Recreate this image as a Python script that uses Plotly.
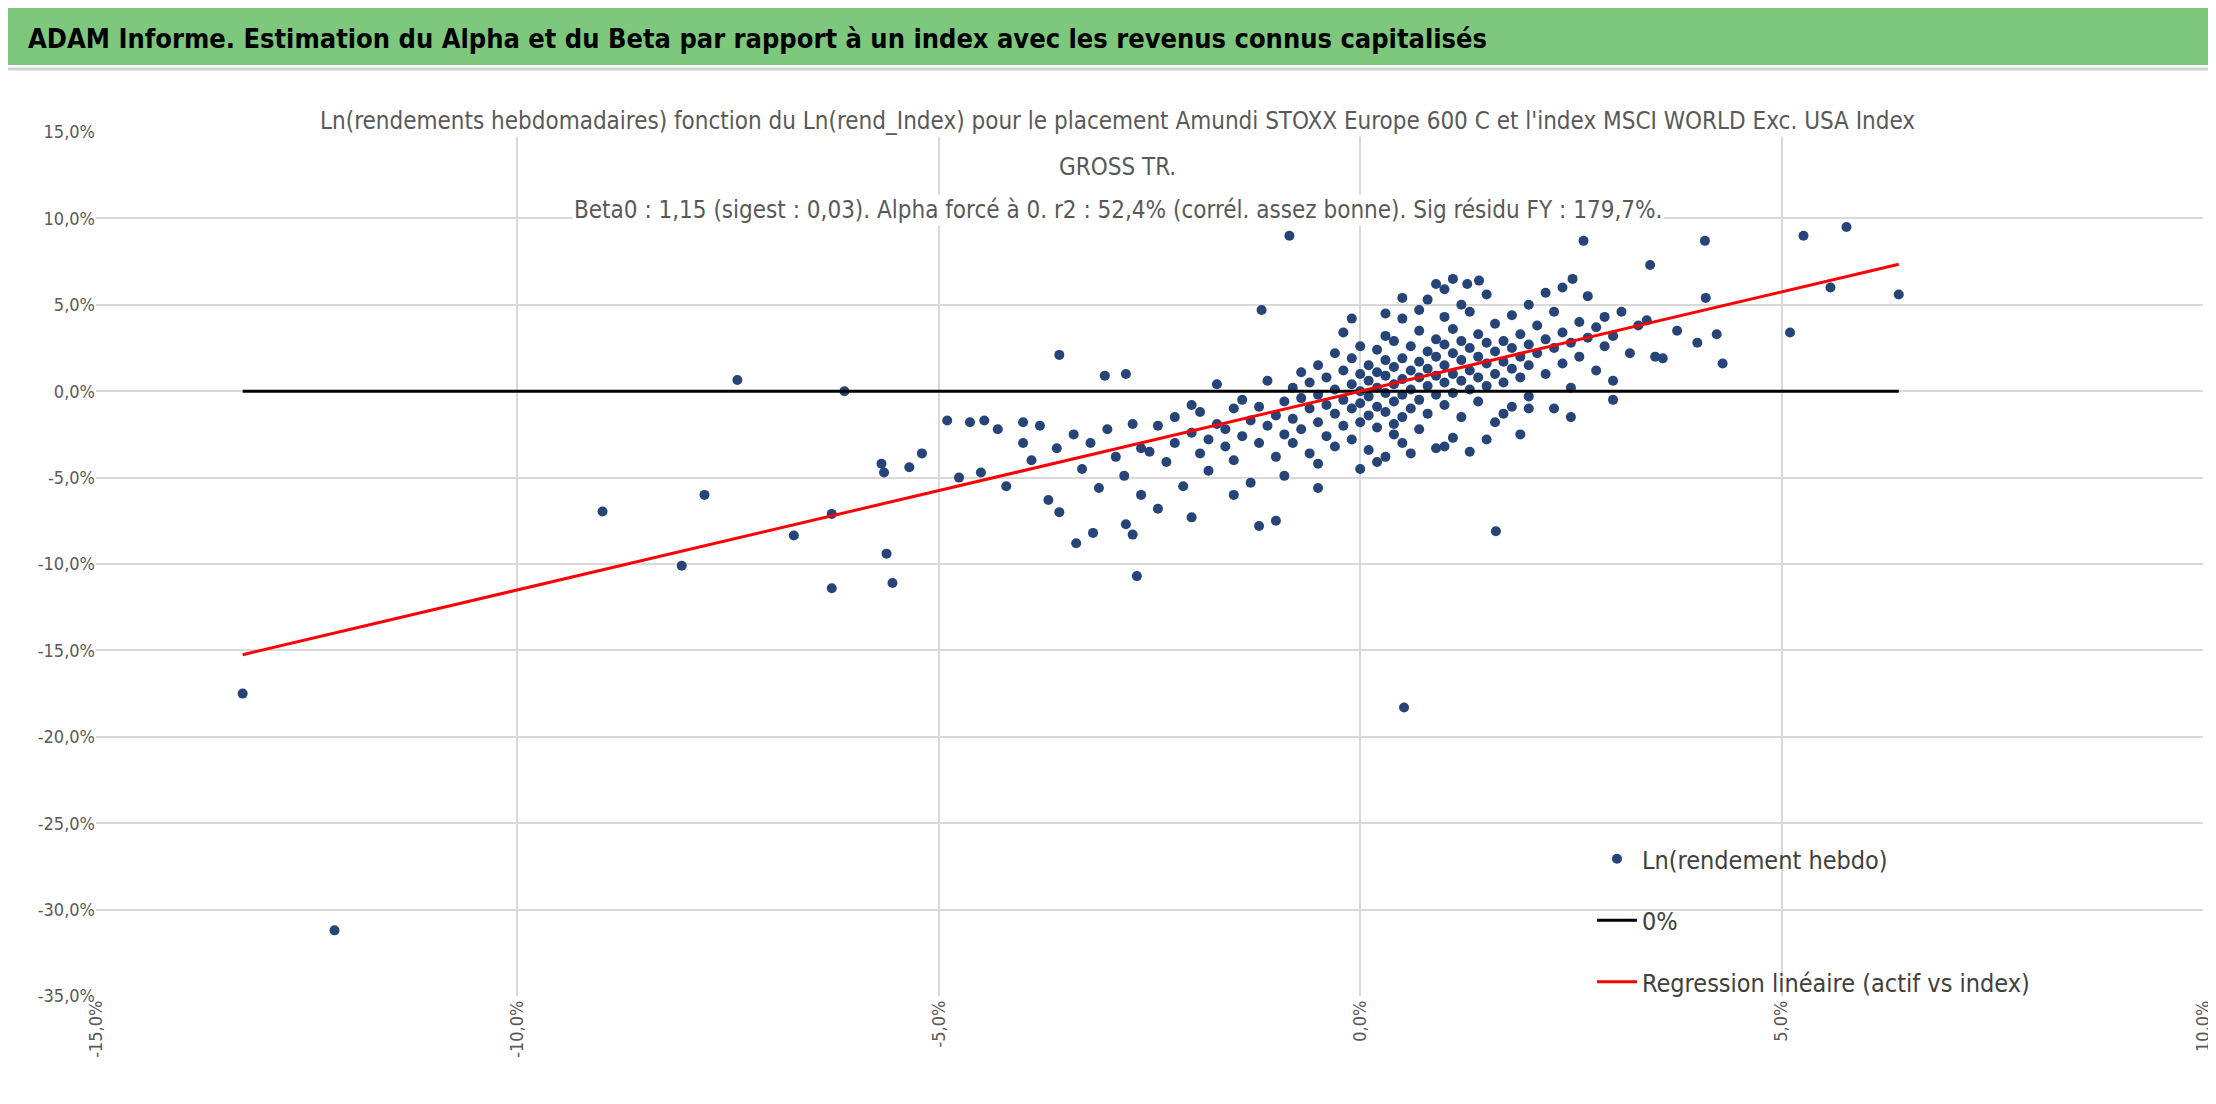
import plotly.graph_objects as go

# Ln(rend_Index) in %, Ln(rendement hebdo) in %
pts = [
(-13.26,-17.5),(-12.17,-31.2),(-8.99,-6.96),(-8.05,-10.1),(-7.78,-6.0),(-7.39,0.65),(-6.72,-8.35),
(-6.27,-11.4),(-6.27,-7.1),(-6.12,0.0),(-5.68,-4.2),(-5.65,-4.7),(-5.62,-9.4),(-5.55,-11.1),(-5.35,-4.4),
(-5.2,-3.6),(-4.9,-1.7),(-4.63,-1.8),(-4.46,-1.7),(-4.76,-5.0),(-3.57,2.1),(-3.03,0.9),(-2.78,1.0),
(-3.57,-7.0),(-3.37,-8.8),(-3.17,-8.2),(-2.78,-7.7),(-2.7,-8.3),(-2.65,-10.7),(-0.84,9.0),(-1.17,4.7),
(0.52,-18.3),(1.61,-8.1),(2.65,8.7),(2.52,6.5),(3.44,7.3),(4.09,8.7),(5.26,9.0),(5.77,9.5),(5.58,6.0),
(5.1,3.4),(6.39,5.6),(4.3,1.6),(4.23,3.3),(4.0,2.8),(4.1,5.4),(3.76,3.5),(3.59,1.9),
(-2.5,-3.5),(-2.4,-2.0),(-2.3,-4.1),(-2.2,-1.5),(-2.2,-3.0),(-2.1,-5.5),(-2.0,-2.4),(-2.0,-0.8),(-1.9,-3.6),
(-1.9,-1.2),(-1.8,-2.8),(-1.8,-4.6),(-1.7,-1.9),(-1.7,0.4),(-1.6,-3.2),(-1.6,-2.2),(-1.5,-1.0),(-1.5,-4.0),
(-1.4,-2.6),(-1.4,-0.5),(-1.3,-1.7),(-1.3,-5.3),(-1.2,-3.0),(-1.2,-0.9),(-1.1,-2.0),(-1.1,0.6),(-1.0,-1.4),
(-1.0,-3.8),(-1.0,-7.5),(-0.9,-0.6),(-0.9,-2.5),
(-3.4,-2.5),(-3.3,-4.5),(-3.2,-3.0),(-3.1,-5.6),(-3.0,-2.2),(-2.9,-3.8),(-2.8,-4.9),(-2.7,-1.9),(-2.6,-3.3),
(-2.6,-6.0),(-3.6,-3.3),(-3.8,-2.0),(-3.9,-4.0),(-4.0,-3.0),(-4.2,-5.5),(-4.3,-2.2),(-4.5,-4.7),(-4.0,-1.8),
(-3.7,-6.3),(-2.4,-6.8),(-2.0,-7.3),(-1.5,-6.0),(-1.2,-7.8),
(-0.8,0.2),(-0.8,-1.6),(-0.8,-3.0),(-0.7,1.1),(-0.7,-0.4),(-0.7,-2.2),(-0.6,0.5),(-0.6,-1.0),(-0.6,-3.6),
(-0.5,1.5),(-0.5,-0.2),(-0.5,-1.8),(-0.5,-4.2),(-0.4,0.8),(-0.4,-0.8),(-0.4,-2.6),(-0.3,2.2),(-0.3,0.1),
(-0.3,-1.3),(-0.3,-3.2),(-0.2,1.2),(-0.2,-0.5),(-0.2,-2.0),(-0.2,3.4),(-0.1,0.4),(-0.1,-1.0),(-0.1,-2.8),
(-0.1,1.9),(0.0,0.0),(0.0,-0.7),(0.0,1.0),(0.0,-1.8),(0.0,2.6),(0.0,-4.5),(0.1,0.6),(0.1,-0.3),(0.1,1.5),
(0.1,-1.4),(0.1,-3.4),(0.2,0.2),(0.2,1.1),(0.2,-0.9),(0.2,2.4),(0.2,-2.1),(0.3,0.9),(0.3,-0.1),(0.3,1.8),
(0.3,-1.2),(0.3,3.2),(0.3,-3.8),(0.4,0.4),(0.4,1.4),(0.4,-0.6),(0.4,2.9),(0.4,-2.5),(0.5,0.7),(0.5,-0.2),
(0.5,1.9),(0.5,-1.5),(0.5,4.2),(0.5,-3.0),
(0.6,1.2),(0.6,0.1),(0.6,2.6),(0.6,-1.0),(0.7,0.8),(0.7,1.7),(0.7,-0.5),(0.7,3.5),(0.7,-2.2),(0.8,1.3),
(0.8,0.3),(0.8,2.3),(0.8,-1.3),(0.8,5.3),(0.9,0.9),(0.9,2.0),(0.9,-0.2),(0.9,3.0),(0.9,-3.3),(1.0,1.5),
(1.0,0.5),(1.0,2.7),(1.0,-0.8),(1.0,4.3),(1.1,1.0),(1.1,2.2),(1.1,-0.1),(1.1,3.6),(1.1,-2.7),(1.2,1.8),
(1.2,0.6),(1.2,2.9),(1.2,-1.5),(1.3,1.2),(1.3,2.5),(1.3,0.1),(1.3,4.6),(1.3,-3.5),(1.4,2.0),(1.4,0.8),
(1.4,3.3),(1.4,-0.6),(1.5,1.6),(1.5,2.8),(1.5,0.3),(1.5,5.6),(1.6,2.3),(1.6,1.0),(1.6,3.9),(1.6,-1.8),
(1.7,1.7),(1.7,2.9),(1.7,0.5),(1.8,2.5),(1.8,1.3),(1.8,4.4),(1.8,-0.9),(1.9,2.0),(1.9,3.3),(1.9,0.8),
(2.0,2.7),(2.0,1.5),(2.0,5.0),(2.0,-0.3),
(2.1,2.2),(2.1,3.8),(2.2,1.0),(2.2,3.0),(2.3,2.5),(2.3,4.6),(2.4,1.6),(2.4,3.4),(2.5,2.8),(2.5,0.2),
(2.6,4.0),(2.6,2.0),(2.7,3.1),(2.7,5.5),(2.8,1.2),(2.8,3.7),(2.9,2.6),(2.9,4.3),(3.0,0.6),(3.0,3.2),
(3.1,4.6),(3.2,2.2),(3.3,3.8),(3.4,4.1),(3.5,2.0),(3.0,-0.5),(2.5,-1.5),(2.3,-1.0),(1.9,-2.5),
(0.4,-1.9),(-0.5,-5.6),(-0.9,-4.9),(0.2,-4.1),(0.6,-3.6),(1.0,-3.2),(1.5,-2.8),(1.7,-1.3),(2.0,-1.0),
(1.2,5.0),(0.9,6.2),(1.0,5.9),(0.5,5.4),(1.1,6.5),(0.3,4.5),(-0.1,4.2),(0.7,4.7),(2.2,5.7),(2.4,6.0),
(1.41,6.4),(1.27,6.2),
]
index_x = [p[0] for p in pts]
asset_y = [p[1] for p in pts]
beta = 1.15
x_line = [min(index_x), max(index_x)]
zero_y = [0, 0]
reg_y = [beta * v for v in x_line]

x_ticks = [-15, -10, -5, 0, 5, 10]
x_labels = ["-15,0%", "-10,0%", "-5,0%", "0,0%", "5,0%", "10,0%"]
y_ticks = [15, 10, 5, 0, -5, -10, -15, -20, -25, -30, -35]
y_labels = ["15,0%", "10,0%", "5,0%", "0,0%", "-5,0%", "-10,0%", "-15,0%", "-20,0%", "-25,0%", "-30,0%", "-35,0%"]

title_lines = [
    "Ln(rendements hebdomadaires) fonction du Ln(rend_Index) pour le placement Amundi STOXX Europe 600 C et l'index MSCI WORLD Exc. USA Index",
    "GROSS TR.",
    "Beta0 : 1,15 (sigest : 0,03). Alpha forcé à 0. r2 : 52,4% (corrél. assez bonne). Sig résidu FY : 179,7%.",
]

FONT = "DejaVu Sans Condensed, Liberation Sans Narrow, sans-serif"

fig = go.Figure()
fig.add_trace(go.Scatter(x=index_x, y=asset_y, mode="markers", name="Ln(rendement hebdo)",
                         legendgroup="a", marker=dict(color="#264478", size=10)))
fig.add_trace(go.Scatter(x=x_line, y=zero_y, mode="lines", name="0%", legendgroup="b",
                         line=dict(color="black", width=3)))
fig.add_trace(go.Scatter(x=x_line, y=reg_y, mode="lines", name="Regression linéaire (actif vs index)",
                         legendgroup="c", line=dict(color="#ff0000", width=3)))

T, B = 124, 116
BOT = 1104 - B
H = float(BOT - T)
def py(p):
    return (BOT - p) / H

annotations = [
    dict(xref="paper", yref="paper", x=-0.033, y=py(30), xanchor="left", yanchor="middle",
         text="<b>ADAM Informe. Estimation du Alpha et du Beta par rapport à un index avec les revenus connus capitalisés</b>",
         showarrow=False, font=dict(family=FONT, size=27, color="black")),
]
for t, yy in zip(title_lines, [113, 159, 202]):
    annotations.append(dict(xref="paper", yref="paper", x=0.485, y=py(yy), xanchor="center", yanchor="middle",
                            text=t, showarrow=False, bgcolor="white",
                            font=dict(family=FONT, size=24, color="#595959")))

fig.update_layout(
    width=2216, height=1104,
    margin=dict(l=88, r=21, t=T, b=B),
    paper_bgcolor="white", plot_bgcolor="white",
    font=dict(family=FONT, color="#595959", size=18),
    showlegend=True,
    legend=dict(x=0.71, y=py(828), xanchor="left", yanchor="top",
                font=dict(size=25, color="#404040"), bgcolor="rgba(0,0,0,0)",
                tracegroupgap=26, itemwidth=40),
    xaxis=dict(range=[-15, 10], tickvals=x_ticks, ticktext=x_labels, tickangle=-90,
               showgrid=True, gridcolor="#d9d9d9", gridwidth=1.5, zeroline=False,
               showline=False, ticks=""),
    yaxis=dict(range=[-35, 15], tickvals=y_ticks, ticktext=y_labels,
               showgrid=True, gridcolor="#d9d9d9", gridwidth=2, zeroline=False,
               showline=False, ticks=""),
    shapes=[
        dict(type="rect", xref="paper", yref="paper", x0=-0.042, x1=1.01, y0=py(57), y1=py(0),
             fillcolor="#7dc87d", line=dict(width=0), layer="above"),
        dict(type="line", xref="paper", yref="paper", x0=-0.042, x1=1.01, y0=py(61), y1=py(61),
             line=dict(color="#d0d0d0", width=3)),
    ],
    annotations=annotations,
)
fig.write_html("out.html")
